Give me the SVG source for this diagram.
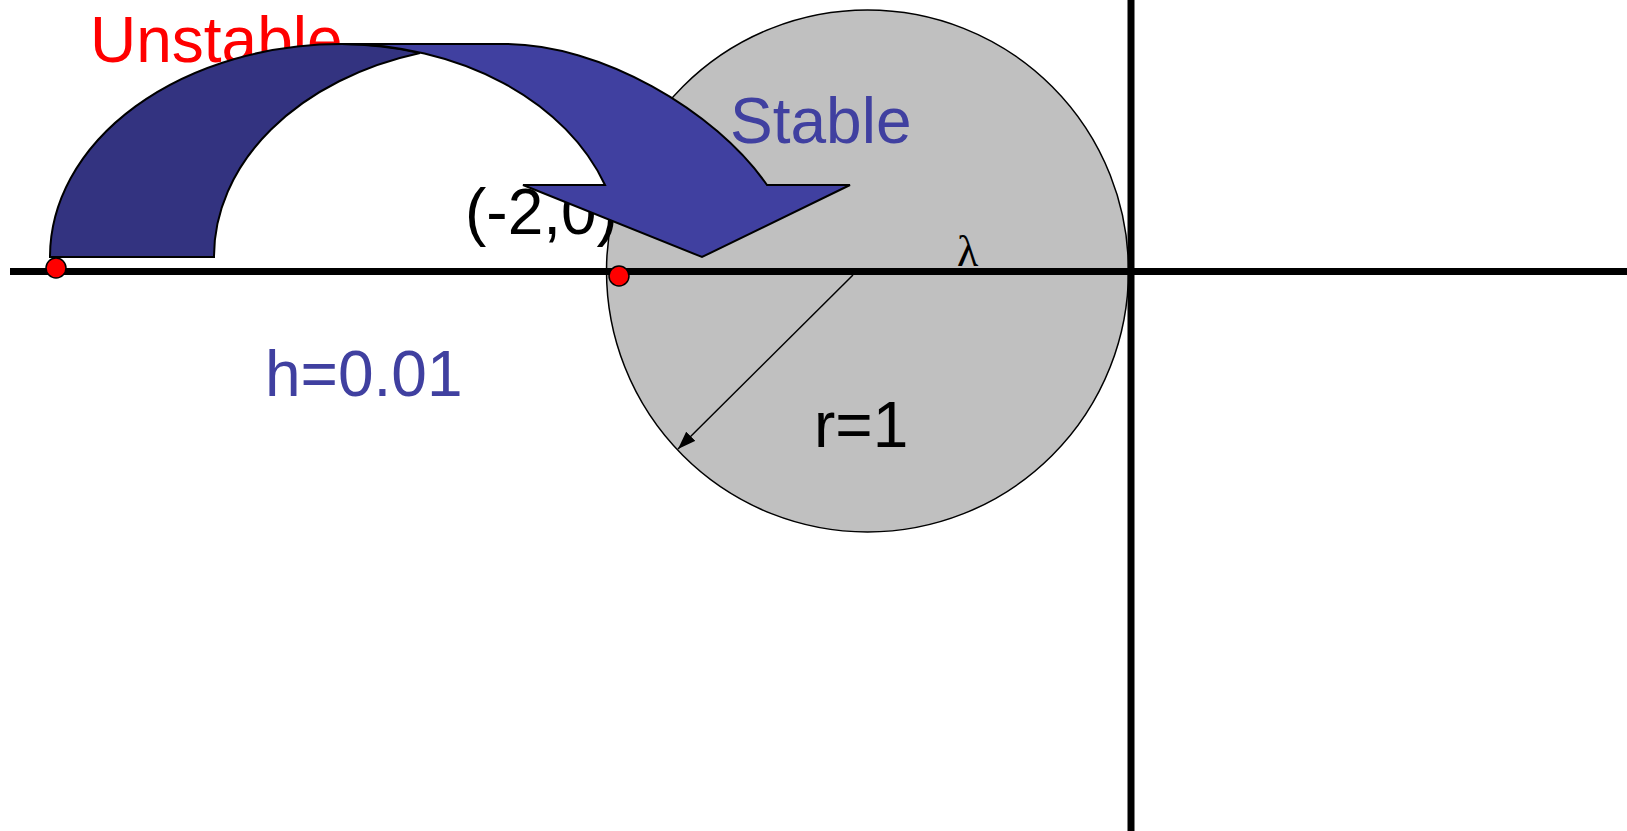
<svg xmlns="http://www.w3.org/2000/svg" width="1627" height="831" viewBox="0 0 1627 831">
  <style>
    .lbl { font-family: "Liberation Sans", Arial, sans-serif; font-size: 64px; }
    .blue { fill: #4040A0; }
    .red { fill: #FF0000; }
    .blk { fill: #000000; }
    .axis { stroke: #000; stroke-width: 7; fill: none; }
    .dot { fill: #FF0000; stroke: #000; stroke-width: 1.5; }
    .band { stroke: #000; stroke-width: 2; stroke-linejoin: miter; }
  </style>
  <defs>
    <marker id="ah" markerUnits="userSpaceOnUse" markerWidth="19" markerHeight="13" refX="18" refY="6.5" orient="auto">
      <path d="M0,0 L18,6.5 L0,13 Z" fill="#000"/>
    </marker>
  </defs>

  <g id="stable-region">
    <circle cx="867.5" cy="271" r="261" fill="#C0C0C0" stroke="#000" stroke-width="1.5"/>
  </g>

  <g id="axes">
    <line class="axis" x1="10" y1="271.5" x2="1627" y2="271.5"/>
    <line class="axis" x1="1131" y1="0" x2="1131" y2="831" stroke-width="6"/>
  </g>

  <g id="connectors">
    <line x1="853" y1="275" x2="678" y2="449" stroke="#000" stroke-width="1.5" marker-end="url(#ah)"/>
  </g>

  <g id="label-unstable">
    <text class="lbl red" x="90" y="62">Unstable</text>
  </g>
  <g id="label-point">
    <text class="lbl blk" x="465" y="234">(-2,0)</text>
  </g>

  <g id="curved-arrow">
    <path class="band" fill="#333380" d="M50,257 A292 213 0 0 1 342,44 A279 212 0 0 1 420,53 A286 212 0 0 0 214,257 Z"/>
    <path class="band" fill="#4040A0" d="M342,44 L505,44 C600,44 715,110 767,185 L850,185 L702,257 L523,185 L605,185 A279 212 0 0 0 342,44 Z"/>
  </g>

  <g id="point-h">
    <circle class="dot" cx="56" cy="268" r="10"/>
  </g>
  <g id="point-minus2">
    <circle class="dot" cx="619" cy="276" r="10"/>
  </g>

  <g id="label-stable">
    <text class="lbl blue" x="730" y="143">Stable</text>
  </g>
  <g id="label-h">
    <text class="lbl blue" x="265" y="396" font-size="62">h=0.01</text>
  </g>
  <g id="label-r">
    <text class="lbl blk" x="814" y="447" font-size="62">r=1</text>
  </g>
  <g id="label-lambda">
    <text x="957" y="266" font-family="'Liberation Serif', 'Times New Roman', serif" font-size="44" fill="#000">λ</text>
  </g>
</svg>
